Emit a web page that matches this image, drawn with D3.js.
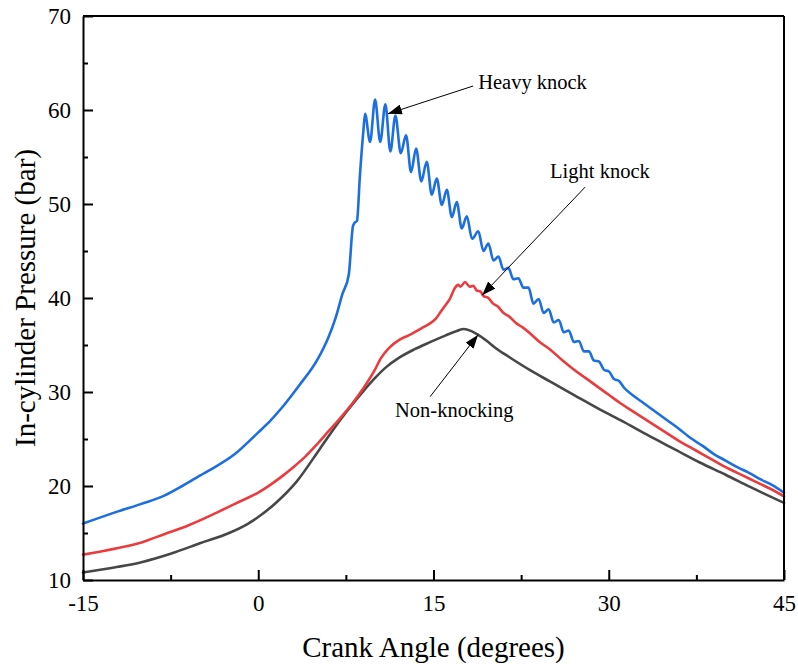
<!DOCTYPE html>
<html>
<head>
<meta charset="utf-8">
<script src="https://cdn.jsdelivr.net/npm/d3@7/dist/d3.min.js"></script>
<style>
  html, body { margin: 0; padding: 0; background: #fff; }
  svg { display: block; }
  text { font-family: "Liberation Serif", "Times New Roman", serif; fill: #000; }
</style>
</head>
<body>
<svg id="chart" width="798" height="664"></svg>
<script>
// Crank angle (degrees) / in-cylinder pressure (bar) pairs for each combustion case
const nonKnocking = [
  [-15, 10.8], [-12, 11.4], [-10, 11.9], [-7.5, 12.8], [-5, 13.9], [-2.5, 15.0],
  [-1, 15.9], [0, 16.7], [1.5, 18.2], [3.3, 20.5], [5.3, 24.0], [7, 27.0], [8, 28.6],
  [9, 30.1], [10, 31.5], [11, 32.7], [12, 33.6], [13.3, 34.5],
  [14.7, 35.3], [16, 36.0], [17, 36.5], [17.6, 36.7], [18.2, 36.5], [18.8, 36.1],
  [19.6, 35.4], [20.4, 34.6], [21.5, 33.7], [23.3, 32.3], [25, 31.1], [27, 29.7],
  [29.3, 28.1], [31, 27.0], [33.5, 25.3], [35.5, 24.0], [37.8, 22.5], [40, 21.2],
  [42.1, 19.9], [45, 18.2]
];

const lightKnock = [
  [-15, 12.7], [-12, 13.4], [-10, 14.0], [-8, 14.9], [-6, 15.8], [-4, 16.9],
  [-2, 18.1], [0, 19.3], [1, 20.1], [2, 21.0], [3, 22.0], [4, 23.1], [5, 24.4],
  [6, 25.8], [7, 27.2], [8, 28.7], [9, 30.4], [10, 32.4], [10.5, 33.6],
  [11.2, 34.7], [12, 35.5], [13, 36.1], [14, 36.8], [14.7, 37.3], [15.2, 37.8],
  [15.6, 38.5], [16.0, 39.2], [16.4, 39.9], [16.8, 41.0], [17.1, 41.4],
  [17.3, 41.2], [17.7, 41.7], [18.1, 41.2], [18.4, 41.3], [18.7, 40.8],
  [19.0, 40.7], [19.3, 40.2], [19.7, 40.0], [20.1, 39.4], [20.5, 39.1],
  [21, 38.4], [21.5, 38.0], [22.1, 37.3], [22.6, 36.9], [23.3, 36.2], [24, 35.4],
  [25, 34.5], [26, 33.4], [27, 32.4], [28, 31.5], [29, 30.6], [30, 29.7],
  [31, 28.8], [32, 28.0], [33, 27.2], [34, 26.4], [35, 25.6], [36, 24.8],
  [37, 24.1], [38, 23.4], [39, 22.7], [40, 22.0], [41, 21.4], [42, 20.8],
  [43, 20.2], [44, 19.6], [45, 18.9]
];

const heavyKnock = [
  [-15, 16.0], [-12, 17.3], [-10, 18.1], [-8, 19.0], [-6.5, 20.0], [-5, 21.1],
  [-4, 21.8], [-2, 23.4], [0, 25.7], [1, 26.9], [2, 28.3], [3.5, 30.7],
  [5, 33.3], [6, 35.8], [6.6, 37.8], [7.2, 40.4], [7.75, 42.5], [8.1, 47.6],
  [8.25, 48.0], [8.45, 48.2], [8.7, 53.0], [9.0, 57.8],
  [9.14, 59.6], [9.57, 56.6], [10.0, 61.1], [10.44, 56.6], [10.88, 60.6],
  [11.31, 55.6], [11.74, 59.4], [12.2, 55.4], [12.65, 57.3], [13.08, 53.4],
  [13.51, 55.9], [13.96, 52.4], [14.42, 54.5], [14.85, 51.0], [15.28, 52.7],
  [15.71, 49.9], [16.14, 51.5], [16.57, 48.6], [16.99, 50.2], [17.42, 47.4],
  [17.85, 48.7], [18.3, 46.3], [18.84, 47.1], [19.27, 45.0], [19.70, 45.8],
  [20.13, 44.0], [20.56, 44.4], [20.99, 43.0], [21.41, 43.2], [21.84, 42.0],
  [22.27, 42.1], [22.7, 41.1], [23.13, 41.1], [23.56, 39.4], [24.0, 39.9],
  [24.43, 38.4], [24.86, 38.8], [25.29, 37.4], [25.72, 37.66], [26.15, 36.35],
  [26.58, 36.55], [27.01, 35.33], [27.44, 35.43], [27.87, 34.32], [28.3, 34.33],
  [28.73, 33.34], [29.16, 33.25], [29.59, 32.37], [30.02, 32.18], [30.45, 31.38],
  [30.88, 31.16], [31.31, 30.45], [32, 29.7], [33, 28.8], [34, 27.9], [35, 27.0],
  [36, 26.1], [37, 25.1], [38, 24.3], [39, 23.4], [40, 22.7], [41, 22.0],
  [42, 21.4], [43, 20.7], [44, 20.1], [45, 19.3]
];

// Axis ticks
const xMajorTicks = [-15, 0, 15, 30, 45];
const xMinorTicks = [-7.5, 7.5, 22.5, 37.5];
const yMajorTicks = [10, 20, 30, 40, 50, 60, 70];
const yMinorTicks = [15, 25, 35, 45, 55, 65];

// Callout labels: text anchor, arrow tail and arrow tip in data units
const callouts = [
  { label: "Heavy knock",  text: [18.82, 62.2], tail: [18.39, 62.55], tip: [11.1, 59.6] },
  { label: "Light knock",  text: [24.98, 52.8], tail: [27.98, 51.8],  tip: [19.16, 40.3] },
  { label: "Non-knocking", text: [11.71, 27.3], tail: [14.71, 29.5],  tip: [18.82, 36.1] }
];

const series = [
  { name: "Non-knocking", data: nonKnocking, color: "#474747" },
  { name: "Light knock",  data: lightKnock,  color: "#ec3b3e" },
  { name: "Heavy knock",  data: heavyKnock,  color: "#1c6fe0" }
];

const svg = d3.select("#chart");
const plot = { left: 83, right: 784, top: 16, bottom: 580 };

const x = d3.scaleLinear().domain([-15, 45]).range([plot.left, plot.right]);
const y = d3.scaleLinear().domain([10, 70]).range([plot.bottom, plot.top]);

// Curves
const line = d3.line()
  .x(d => x(d[0]))
  .y(d => y(d[1]))
  .curve(d3.curveMonotoneX);

svg.append("g")
  .selectAll("path")
  .data(series)
  .join("path")
  .attr("d", d => line(d.data))
  .attr("fill", "none")
  .attr("stroke", d => d.color)
  .attr("stroke-width", 2.6)
  .attr("stroke-linejoin", "round")
  .attr("stroke-linecap", "round");

// Frame: top and right edges
svg.append("line")
  .attr("x1", plot.left).attr("x2", plot.right)
  .attr("y1", plot.top).attr("y2", plot.top)
  .attr("stroke", "#000").attr("stroke-width", 2);
svg.append("line")
  .attr("x1", plot.right).attr("x2", plot.right)
  .attr("y1", plot.top).attr("y2", plot.bottom)
  .attr("stroke", "#000").attr("stroke-width", 2);

// Axes with inward ticks
function styleAxis(g) {
  g.select(".domain").attr("stroke", "#000").attr("stroke-width", 2);
  g.selectAll(".tick line").attr("stroke", "#000").attr("stroke-width", 2);
  g.selectAll(".tick text")
    .attr("font-family", "'Liberation Serif', 'Times New Roman', serif")
    .attr("font-size", 23)
    .attr("fill", "#000");
}

const xAxis = svg.append("g")
  .attr("transform", `translate(0,${plot.bottom})`)
  .call(d3.axisBottom(x).tickValues(xMajorTicks).tickSize(-10).tickSizeOuter(0)
    .tickPadding(15).tickFormat(d => String(d)));
styleAxis(xAxis);

const xMinor = svg.append("g")
  .attr("transform", `translate(0,${plot.bottom})`)
  .call(d3.axisBottom(x).tickValues(xMinorTicks).tickSize(-5).tickSizeOuter(0).tickFormat(""));
styleAxis(xMinor);
xMinor.select(".domain").remove();

const yAxis = svg.append("g")
  .attr("transform", `translate(${plot.left},0)`)
  .call(d3.axisLeft(y).tickValues(yMajorTicks).tickSize(-10).tickSizeOuter(0)
    .tickPadding(12).tickFormat(d => String(d)));
styleAxis(yAxis);

const yMinor = svg.append("g")
  .attr("transform", `translate(${plot.left},0)`)
  .call(d3.axisLeft(y).tickValues(yMinorTicks).tickSize(-5).tickSizeOuter(0).tickFormat(""));
styleAxis(yMinor);
yMinor.select(".domain").remove();

// Axis titles
svg.append("text")
  .attr("x", (plot.left + plot.right) / 2)
  .attr("y", 657)
  .attr("text-anchor", "middle")
  .attr("font-size", 29)
  .text("Crank Angle (degrees)");

svg.append("text")
  .attr("transform", `translate(35,${(plot.top + plot.bottom) / 2}) rotate(-90)`)
  .attr("text-anchor", "middle")
  .attr("font-size", 29)
  .text("In-cylinder Pressure (bar)");

// Callout arrows and labels
svg.append("defs").append("marker")
  .attr("id", "arrowhead")
  .attr("viewBox", "0 0 14 10")
  .attr("refX", 14).attr("refY", 5)
  .attr("markerWidth", 14).attr("markerHeight", 10)
  .attr("markerUnits", "userSpaceOnUse")
  .attr("orient", "auto")
  .append("path")
  .attr("d", "M0,0 L14,5 L0,10 Z")
  .attr("fill", "#000");

const notes = svg.append("g");
notes.selectAll("line")
  .data(callouts)
  .join("line")
  .attr("x1", d => x(d.tail[0])).attr("y1", d => y(d.tail[1]))
  .attr("x2", d => x(d.tip[0])).attr("y2", d => y(d.tip[1]))
  .attr("stroke", "#000").attr("stroke-width", 1)
  .attr("marker-end", "url(#arrowhead)");

notes.selectAll("text")
  .data(callouts)
  .join("text")
  .attr("x", d => x(d.text[0]))
  .attr("y", d => y(d.text[1]))
  .attr("font-size", 20.5)
  .text(d => d.label);
</script>
</body>
</html>
